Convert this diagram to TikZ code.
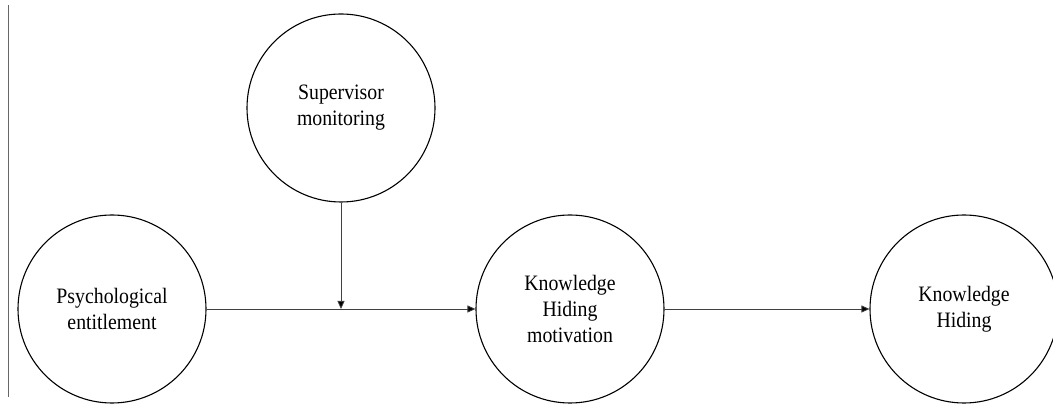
\documentclass[tikz,border=0pt]{standalone}
\usepackage{fontspec}
\setmainfont[FakeStretch=0.9]{Liberation Serif}
\usetikzlibrary{arrows.meta,positioning}

\begin{document}
\begin{tikzpicture}[x=1pt,y=1pt,
        main node/.style={circle,draw,line width=1.1pt,minimum size=188pt,inner sep=0pt,
            align=center,font=\fontsize{22}{26}\selectfont},
        link/.style={draw=black!75,line width=0.8pt,-{Triangle[length=8pt,width=7pt]}}]

    \useasboundingbox (0,0) rectangle (1053,406);
    \draw[black!60,line width=0.8pt] (8,9) -- (8,401);

    \node[main node] (pe) at (112,97) {Psychological\\entitlement};
    \node[main node] (sm) at (341,298) {Supervisor\\monitoring};
    \node[main node] (khm) at (570,97) {Knowledge\\Hiding\\motivation};
    \node[main node] (kh) at (964,97) {Knowledge\\Hiding};
    \coordinate (mod) at (sm |- pe);

    \path[link]
    (pe) edge node {} (khm)
    (khm) edge node {} (kh)
    (sm) edge node {} (mod);

\end{tikzpicture}
\end{document}
